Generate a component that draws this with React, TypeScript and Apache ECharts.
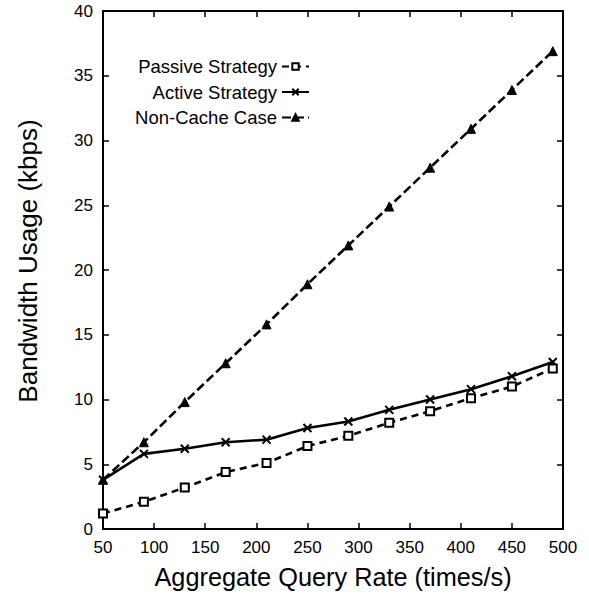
import React, { useEffect, useRef } from "react";
import * as echarts from "echarts";

const queryRates = [50, 90, 130, 170, 210, 250, 290, 330, 370, 410, 450, 490];
const passiveValues = [1.2, 2.1, 3.2, 4.4, 5.1, 6.4, 7.2, 8.2, 9.1, 10.1, 11.0, 12.4];
const activeValues = [3.8, 5.8, 6.2, 6.7, 6.9, 7.8, 8.3, 9.2, 10.0, 10.8, 11.8, 12.9];
const nonCacheValues = [3.8, 6.7, 9.8, 12.8, 15.8, 18.9, 21.9, 24.9, 27.9, 30.9, 33.9, 36.9];
const seriesNames = ["Passive Strategy", "Active Strategy", "Non-Cache Case"];
const xAxisTitle = "Aggregate Query Rate (times/s)";
const yAxisTitle = "Bandwidth Usage (kbps)";

const FONT = "Liberation Sans, Arial, Helvetica, sans-serif";

export default function App() {
  const ref = useRef<HTMLDivElement>(null);
  useEffect(() => {
    if (!ref.current) return;
    const chart = echarts.init(ref.current, undefined, { renderer: "svg" });
    const pair = (vals: number[]) => queryRates.map((x, i) => [x, vals[i]]);
    const tickCommon = { show: true, inside: true, length: 6, lineStyle: { color: "#000", width: 1.5 } };
    const lineCommon = { show: true, onZero: false, lineStyle: { color: "#000", width: 2 } };
    chart.setOption({
      animation: false,
      backgroundColor: "#fff",
      textStyle: { fontFamily: FONT, color: "#000" },
      grid: { left: 103, right: 26, top: 11, bottom: 68, containLabel: false },
      legend: {
        orient: "vertical",
        align: "right",
        right: 274,
        top: 52,
        itemGap: 6.5,
        itemWidth: 27,
        itemHeight: 8,
        textStyle: { fontFamily: FONT, fontSize: 18.5, color: "#000" },
        data: seriesNames,
      },
      graphic: [
        {
          type: "text",
          x: 28,
          y: 261,
          rotation: Math.PI / 2,
          style: {
            text: yAxisTitle,
            font: `26px ${FONT}`,
            fill: "#000",
            textAlign: "center",
            textVerticalAlign: "middle",
          },
        },
      ],
      xAxis: [
        {
          type: "value",
          min: 50,
          max: 500,
          interval: 50,
          position: "bottom",
          axisLine: lineCommon,
          axisTick: tickCommon,
          splitLine: { show: false },
          axisLabel: { fontFamily: FONT, fontSize: 17, color: "#000", margin: 10 },
          name: xAxisTitle,
          nameLocation: "middle",
          nameGap: 35,
          nameTextStyle: { fontFamily: FONT, fontSize: 25.3, color: "#000" },
        },
        {
          type: "value",
          min: 50,
          max: 500,
          interval: 50,
          position: "top",
          axisLine: lineCommon,
          axisTick: tickCommon,
          splitLine: { show: false },
          axisLabel: { show: false },
        },
      ],
      yAxis: [
        {
          type: "value",
          min: 0,
          max: 40,
          interval: 5,
          position: "left",
          axisLine: lineCommon,
          axisTick: tickCommon,
          splitLine: { show: false },
          axisLabel: { fontFamily: FONT, fontSize: 17, color: "#000", margin: 10 },
        },
        {
          type: "value",
          min: 0,
          max: 40,
          interval: 5,
          position: "right",
          axisLine: lineCommon,
          axisTick: tickCommon,
          splitLine: { show: false },
          axisLabel: { show: false },
        },
      ],
      series: [
        {
          name: seriesNames[0],
          type: "line",
          data: pair(passiveValues),
          symbol: "rect",
          symbolSize: 8,
          itemStyle: { color: "#fff", borderColor: "#000", borderWidth: 2 },
          lineStyle: { color: "#000", width: 2.6, type: [7, 5] },
          z: 3,
        },
        {
          name: seriesNames[1],
          type: "line",
          data: pair(activeValues),
          symbol: "path://M0,0L10,10M10,0L0,10",
          symbolSize: 8,
          itemStyle: { color: "#000", borderColor: "#000", borderWidth: 2 },
          lineStyle: { color: "#000", width: 2.6, type: "solid" },
          z: 2,
        },
        {
          name: seriesNames[2],
          type: "line",
          data: pair(nonCacheValues),
          symbol: "triangle",
          symbolSize: 9,
          itemStyle: { color: "#000", borderColor: "#000", borderWidth: 1 },
          lineStyle: { color: "#000", width: 2.6, type: [9, 4] },
          z: 1,
        },
      ],
    });
    return () => chart.dispose();
  }, []);
  return (
    <div
      ref={ref}
      style={{ position: "absolute", left: 0, top: 0, width: 589, height: 597 }}
    />
  );
}
